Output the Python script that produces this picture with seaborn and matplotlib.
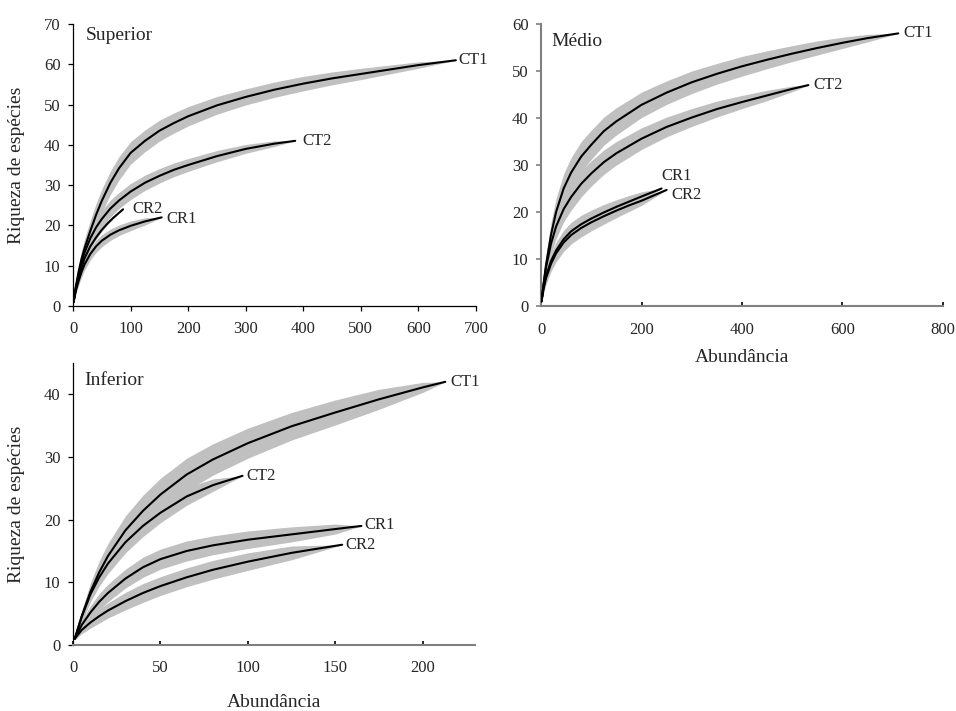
import numpy as np
import pandas as pd
import matplotlib
matplotlib.use("Agg")
import matplotlib.pyplot as plt
import seaborn as sns

# ---------------- data ----------------
# Superior
sup_ct1_x = [1, 5, 10, 15, 20, 30, 40, 50, 65, 80, 100, 125, 150, 175, 200,
             250, 300, 350, 400, 450, 500, 550, 600, 665]
sup_ct1_y = [1, 4.9, 8.7, 11.8, 14.3, 18.6, 22.6, 26.1, 30.6, 34.2, 38.0,
             41.0, 43.5, 45.4, 47.1, 49.8, 51.9, 53.7, 55.2, 56.5, 57.6,
             58.7, 59.8, 61]
sup_ct1_hw = [0.2, 1.0, 1.6, 2.0, 2.3, 2.6, 2.8, 2.9, 2.9, 2.9, 2.8, 2.7,
              2.6, 2.5, 2.4, 2.2, 2.0, 1.9, 1.8, 1.6, 1.4, 1.1, 0.8, 0]

sup_ct2_x = [1, 5, 10, 15, 20, 30, 40, 50, 65, 80, 100, 125, 150, 175, 200,
             250, 300, 350, 386]
sup_ct2_y = [1, 4.6, 8.0, 10.8, 13.2, 16.8, 19.5, 21.6, 24.2, 26.2, 28.4,
             30.6, 32.3, 33.8, 35.0, 37.2, 39.0, 40.3, 41]
sup_ct2_hw = [0.2, 0.9, 1.4, 1.7, 1.9, 2.0, 2.1, 2.1, 2.1, 2.0, 2.0, 1.9,
              1.8, 1.7, 1.6, 1.4, 1.1, 0.7, 0]

sup_cr2_x = [1, 5, 10, 20, 30, 40, 50, 60, 70, 87]
sup_cr2_y = [1, 4.3, 7.4, 11.8, 14.8, 17.0, 18.9, 20.5, 21.9, 24]
sup_cr2_hw = [0.1, 0.3, 0.4, 0.5, 0.5, 0.5, 0.4, 0.3, 0.2, 0]

sup_cr1_x = [1, 5, 10, 15, 20, 30, 40, 50, 65, 80, 100, 125, 154]
sup_cr1_y = [1, 3.8, 6.3, 8.5, 10.3, 12.9, 14.8, 16.2, 17.7, 18.8, 19.9,
             21.0, 22]
sup_cr1_hw = [0.2, 0.8, 1.1, 1.3, 1.4, 1.5, 1.5, 1.5, 1.4, 1.3, 1.2, 0.9, 0]

# Médio
med_ct1_x = [1, 5, 10, 20, 30, 45, 60, 80, 100, 125, 150, 200, 250, 300,
             350, 400, 450, 500, 550, 600, 650, 711]
med_ct1_y = [1, 4.6, 8.8, 15.2, 20.0, 25.0, 28.4, 31.8, 34.3, 37.2, 39.3,
             42.8, 45.4, 47.6, 49.4, 51.0, 52.4, 53.7, 54.9, 56.0, 57.0, 58]
med_ct1_hw = [0.2, 1.2, 2.0, 2.6, 2.9, 3.1, 3.2, 3.2, 3.1, 3.0, 2.9, 2.7,
              2.5, 2.4, 2.2, 2.1, 1.9, 1.7, 1.5, 1.2, 0.8, 0]

med_ct2_x = [1, 5, 10, 20, 30, 45, 60, 80, 100, 125, 150, 200, 250, 300,
             350, 400, 450, 500, 532]
med_ct2_y = [1, 4.5, 8.2, 13.3, 16.9, 20.6, 23.2, 26.0, 28.2, 30.6, 32.5,
             35.6, 38.1, 40.1, 41.9, 43.4, 44.8, 46.2, 47]
med_ct2_hw = [0.2, 1.1, 1.8, 2.3, 2.6, 2.7, 2.8, 2.8, 2.7, 2.6, 2.5, 2.3,
              2.1, 1.9, 1.7, 1.4, 1.1, 0.6, 0]

med_cr1_x = [1, 5, 10, 20, 30, 45, 60, 80, 100, 125, 150, 175, 200, 240]
med_cr1_y = [1, 3.9, 6.4, 9.6, 11.8, 14.2, 15.9, 17.4, 18.6, 19.9, 21.1,
             22.2, 23.3, 25.0]
med_cr1_hw = [0.2, 0.9, 1.3, 1.6, 1.8, 1.9, 1.9, 1.9, 1.8, 1.7, 1.5, 1.3,
              1.0, 0]

med_cr2_x = [1, 5, 10, 20, 30, 45, 60, 80, 100, 125, 150, 175, 200, 250]
med_cr2_y = [1, 3.6, 5.9, 9.0, 11.2, 13.5, 15.1, 16.6, 17.8, 19.1, 20.3,
             21.4, 22.4, 24.7]
med_cr2_hw = [0.2, 0.9, 1.3, 1.6, 1.8, 1.9, 1.9, 1.9, 1.8, 1.7, 1.5, 1.3,
              1.0, 0]

# Inferior
inf_ct1_x = [1, 5, 10, 15, 20, 30, 40, 50, 65, 80, 100, 125, 150, 175, 200,
             213]
inf_ct1_y = [1, 4.6, 8.5, 11.6, 14.2, 18.3, 21.4, 24.0, 27.2, 29.6, 32.2,
             34.9, 37.1, 39.2, 41.1, 42]
inf_ct1_hw = [0.2, 0.9, 1.4, 1.8, 2.0, 2.3, 2.5, 2.6, 2.6, 2.5, 2.4, 2.2,
              2.0, 1.6, 0.8, 0]

inf_ct2_x = [1, 5, 10, 15, 20, 30, 40, 50, 65, 80, 97]
inf_ct2_y = [1, 4.5, 8.1, 10.8, 13.0, 16.4, 19.0, 21.1, 23.7, 25.5, 27]
inf_ct2_hw = [0.2, 0.8, 1.2, 1.4, 1.6, 1.7, 1.7, 1.6, 1.4, 1.0, 0]

inf_cr1_x = [1, 5, 10, 15, 20, 30, 40, 50, 65, 80, 100, 125, 150, 165]
inf_cr1_y = [1, 3.2, 5.2, 6.9, 8.3, 10.6, 12.4, 13.7, 15.0, 15.9, 16.8,
             17.65, 18.5, 19]
inf_cr1_hw = [0.2, 0.8, 1.1, 1.3, 1.4, 1.5, 1.6, 1.6, 1.6, 1.5, 1.4, 1.2,
              0.8, 0]

inf_cr2_x = [1, 5, 10, 15, 20, 30, 40, 50, 65, 80, 100, 125, 154]
inf_cr2_y = [1, 2.4, 3.6, 4.6, 5.5, 7.0, 8.3, 9.4, 10.8, 12.0, 13.3, 14.7, 16]
inf_cr2_hw = [0.2, 0.6, 0.9, 1.1, 1.2, 1.4, 1.5, 1.5, 1.5, 1.5, 1.4, 1.1, 0]

panel_titles = ["Superior", "Médio", "Inferior"]
y_label = "Riqueza de espécies"
x_label = "Abundância"

sup_xticks = [0, 100, 200, 300, 400, 500, 600, 700]
sup_yticks = [0, 10, 20, 30, 40, 50, 60, 70]
med_xticks = [0, 200, 400, 600, 800]
med_yticks = [0, 10, 20, 30, 40, 50, 60]
inf_xticks = [0, 50, 100, 150, 200]
inf_yticks = [0, 10, 20, 30, 40]

# ---------------- build tables ----------------
def table(panel, name, xs, ys, hws):
    return pd.DataFrame({"panel": panel, "curve": name, "n": xs, "S": ys,
                         "hw": hws})

frames = [
    table("Superior", "CT1", sup_ct1_x, sup_ct1_y, sup_ct1_hw),
    table("Superior", "CT2", sup_ct2_x, sup_ct2_y, sup_ct2_hw),
    table("Superior", "CR2", sup_cr2_x, sup_cr2_y, sup_cr2_hw),
    table("Superior", "CR1", sup_cr1_x, sup_cr1_y, sup_cr1_hw),
    table("Médio", "CT1", med_ct1_x, med_ct1_y, med_ct1_hw),
    table("Médio", "CT2", med_ct2_x, med_ct2_y, med_ct2_hw),
    table("Médio", "CR1", med_cr1_x, med_cr1_y, med_cr1_hw),
    table("Médio", "CR2", med_cr2_x, med_cr2_y, med_cr2_hw),
    table("Inferior", "CT1", inf_ct1_x, inf_ct1_y, inf_ct1_hw),
    table("Inferior", "CT2", inf_ct2_x, inf_ct2_y, inf_ct2_hw),
    table("Inferior", "CR1", inf_cr1_x, inf_cr1_y, inf_cr1_hw),
    table("Inferior", "CR2", inf_cr2_x, inf_cr2_y, inf_cr2_hw),
]
df = pd.concat(frames, ignore_index=True)

# ---------------- style ----------------
sns.set_style("ticks")
plt.rcParams["font.family"] = ["Liberation Serif", "DejaVu Serif"]
plt.rcParams["axes.linewidth"] = 0.8

fig = plt.figure(figsize=(9.56, 7.11), dpi=100)

W, H = 956, 711
def axes_px(l, r, b, t):
    return fig.add_axes([l / W, 1 - b / H, (r - l) / W, (b - t) / H])

ax_sup = axes_px(73, 476, 306, 24)
ax_med = axes_px(541, 943, 306, 24)
ax_inf = axes_px(73, 475, 645, 363)

# label offsets (points) relative to curve end
label_offsets = {
    ("Superior", "CT1"): (1.5, 0), ("Superior", "CT2"): (5, 0),
    ("Superior", "CR2"): (7, 0), ("Superior", "CR1"): (3.5, -1.2),
    ("Médio", "CT1"): (3.5, 0), ("Médio", "CT2"): (3.5, 0),
    ("Médio", "CR1"): (0, 9), ("Médio", "CR2"): (3.5, -3.4),
    ("Inferior", "CT1"): (4, 0), ("Inferior", "CT2"): (2.5, 0),
    ("Inferior", "CR1"): (2, 0.8), ("Inferior", "CR2"): (2, 0),
}

panels = [
    (ax_sup, "Superior", sup_xticks, sup_yticks, (0, 700), (0, 70)),
    (ax_med, "Médio", med_xticks, med_yticks, (0, 800), (0, 60)),
    (ax_inf, "Inferior", inf_xticks, inf_yticks, (0, 230), (0, 45)),
]

band_color = "#c0c0c0"
for ax, pname, xt, yt, xl, yl in panels:
    sub = df[df["panel"] == pname]
    for cname, g in sub.groupby("curve", sort=False):
        ax.fill_between(g["n"], g["S"] - g["hw"], g["S"] + g["hw"],
                        color=band_color, linewidth=0, zorder=1)
    sns.lineplot(data=sub, x="n", y="S", units="curve", estimator=None,
                 color="black", linewidth=1.5, ax=ax, zorder=3, sort=False,
                 solid_joinstyle="round", solid_capstyle="round")
    for cname, g in sub.groupby("curve", sort=False):
        dx, dy = label_offsets[(pname, cname)]
        ax.annotate(cname, xy=(g["n"].iloc[-1], g["S"].iloc[-1]),
                    xytext=(dx, dy), textcoords="offset points",
                    ha="left", va="center", fontsize=12, zorder=4)
    ax.set_xlim(*xl)
    ax.set_ylim(*yl)
    ax.set_xticks(xt)
    ax.set_yticks(yt)
    ax.set_xlabel("")
    ax.set_ylabel("")
    ax.tick_params(labelsize=12)
    sns.despine(ax=ax)

# panel titles
ax_sup.text(0.032, 0.943, panel_titles[0], transform=ax_sup.transAxes,
            fontsize=14, ha="left", va="baseline")
ax_med.text(0.027, 0.922, panel_titles[1], transform=ax_med.transAxes,
            fontsize=14, ha="left", va="baseline")
ax_inf.text(0.028, 0.922, panel_titles[2], transform=ax_inf.transAxes,
            fontsize=14, ha="left", va="baseline")

# spines & ticks
grey = "#808080"
for sp in ("left", "bottom"):
    ax_sup.spines[sp].set_color("black")
    ax_sup.spines[sp].set_linewidth(0.9)
    ax_med.spines[sp].set_color(grey)
    ax_med.spines[sp].set_linewidth(1.5)
ax_inf.spines["left"].set_color("black")
ax_inf.spines["left"].set_linewidth(0.9)
ax_inf.spines["bottom"].set_color(grey)
ax_inf.spines["bottom"].set_linewidth(1.5)

ax_sup.tick_params(axis="x", direction="out", length=3.5, width=0.9,
                   color="black", pad=7.5)
ax_sup.tick_params(axis="y", direction="out", length=3.5, width=0.9,
                   color="black", pad=5.5)
ax_med.tick_params(axis="x", direction="in", length=3, width=1.2,
                   color="black", pad=11.5)
ax_med.tick_params(axis="y", direction="out", length=3.5, width=1.2,
                   color=grey, pad=5.5)
ax_inf.tick_params(axis="x", direction="in", length=3, width=1.2,
                   color="black", pad=11)
ax_inf.tick_params(axis="y", direction="out", length=3.5, width=0.9,
                   color="black", pad=5.5)

# axis labels
ax_sup.set_ylabel(y_label, fontsize=14)
ax_sup.yaxis.set_label_coords(-0.118, 0.5)
ax_inf.set_ylabel(y_label, fontsize=14)
ax_inf.yaxis.set_label_coords(-0.119, 0.5)
ax_med.set_xlabel(x_label, fontsize=14)
ax_med.xaxis.set_label_coords(0.5, -0.152)
ax_inf.set_xlabel(x_label, fontsize=14)
ax_inf.xaxis.set_label_coords(0.5, -0.172)

fig.savefig("out.png", dpi=100)
